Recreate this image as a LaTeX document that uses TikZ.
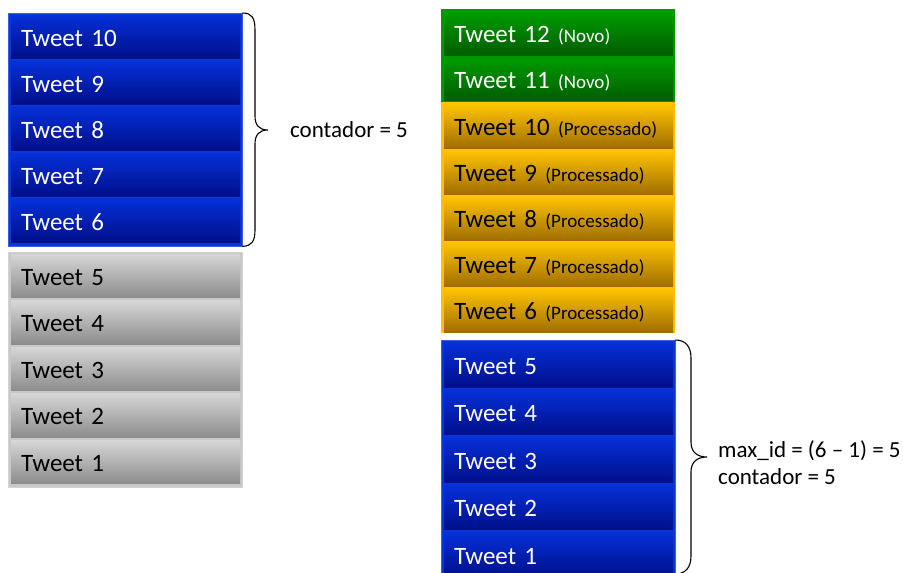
\documentclass[tikz,border=0pt]{standalone}
\usepackage{fontspec}
\setmainfont{Carlito}
\definecolor{blueframe}{HTML}{0A36D6}
\definecolor{bluetop}{HTML}{0630D8}
\definecolor{bluebot}{HTML}{000F8A}
\definecolor{grayframe}{HTML}{C8C8C8}
\definecolor{graytop}{HTML}{D6D6D6}
\definecolor{graybot}{HTML}{8C8C8C}
\definecolor{greenframe}{HTML}{009A00}
\definecolor{greentop}{HTML}{009C00}
\definecolor{greenbot}{HTML}{005E00}
\definecolor{orangeframe}{HTML}{FFC000}
\definecolor{orangetop}{HTML}{FFC400}
\definecolor{orangebot}{HTML}{A06E00}
\newcommand\statusfont{\fontsize{19}{22}\selectfont}
\begin{document}
\begin{tikzpicture}[x=1pt,y=-1pt,
  frame/.style={anchor=north west, inner sep=0pt, minimum width=234pt},
  row/.style={anchor=north west, inner xsep=10pt, inner ysep=0pt,
    text width=209pt, align=left, text height=19pt, text depth=0pt,
    font=\fontsize{25}{30}\selectfont},
  bluerow/.style={row, top color=bluetop, bottom color=bluebot, text=white},
  grayrow/.style={row, top color=graytop, bottom color=graybot, text=black},
  greenrow/.style={row, top color=greentop, bottom color=greenbot, text=white},
  orangerow/.style={row, top color=orangetop, bottom color=orangebot, text=black},
  brace/.style={draw=black, line width=1.1pt},
  label/.style={anchor=west, inner sep=0pt, font=\fontsize{23}{27}\selectfont, align=left}]
\useasboundingbox (0,0) rectangle (903,573);
\clip (0,0) rectangle (903,573);
\fill[white] (0,0) rectangle (903,573);

% left column: newest batch (blue) over the older tweets (gray)
\node[frame, fill=blueframe, draw=blueframe!80!white, minimum height=233pt] (lblue) at (8,13) {};
\node[frame, fill=grayframe, draw=grayframe!80!white, minimum height=235pt] (lgray) at (8,251.5) {};
\foreach \n [count=\k from 0] in {10,9,8,7,6}
  \node[bluerow, minimum height=43pt] (l\n) at (11,15+46*\k) {Tweet \n};
\foreach \n [count=\k from 0] in {5,4,3,2,1}
  \node[grayrow, minimum height=43.5pt] (l\n) at (11,254+46.5*\k) {Tweet \n};

% left brace and counter
\draw[brace] (lblue.north east) .. controls (252,13) and (255,18) .. (255,30)
  -- (255,116) .. controls (255,125) and (259,130) .. (268,130) coordinate (ltip)
  .. controls (259,130) and (255,135) .. (255,144)
  -- (255,230) .. controls (255,241) and (252,246) .. (lblue.south east);
\node[label] (lcount) at (290,130) {contador = 5};

% right column: new tweets, processed tweets, next batch
\node[frame, fill=greenframe, minimum height=93pt] (rgreen) at (441,9) {};
\node[frame, fill=orangeframe, minimum height=231pt] (rorange) at (441,102) {};
\node[frame, fill=blueframe, draw=blueframe!80!white, minimum height=245pt] (rblue) at (441,340) {};
\node[greenrow, minimum height=44pt] (r12) at (444,11)
  {Tweet 12 {\statusfont (Novo)}};
\node[greenrow, minimum height=43pt] (r11) at (444,57)
  {Tweet 11 {\statusfont (Novo)}};
\foreach \n [count=\k from 0] in {10,9,8,7,6}
  \node[orangerow, minimum height=44pt] (r\n) at (444,104+46*\k)
    {Tweet \n\ {\statusfont(Processado)}};
\foreach \n [count=\k from 0] in {5,4,3,2,1}
  \node[bluerow, minimum height=45pt] (rb\n) at (444,342+47.5*\k) {Tweet \n};

% right brace and its notes
\draw[brace] (rblue.north east) .. controls (685,340) and (691,346) .. (691,358)
  -- (691,442) .. controls (691,452) and (697,457) .. (707,457) coordinate (rtip)
  .. controls (697,457) and (691,462) .. (691,472)
  -- (691,556) .. controls (691,568) and (685,574) .. (675,574);
\node[label] (rnote) at (718,462.5) {max\_id = (6 – 1) = 5\\contador = 5};
\end{tikzpicture}
\end{document}
